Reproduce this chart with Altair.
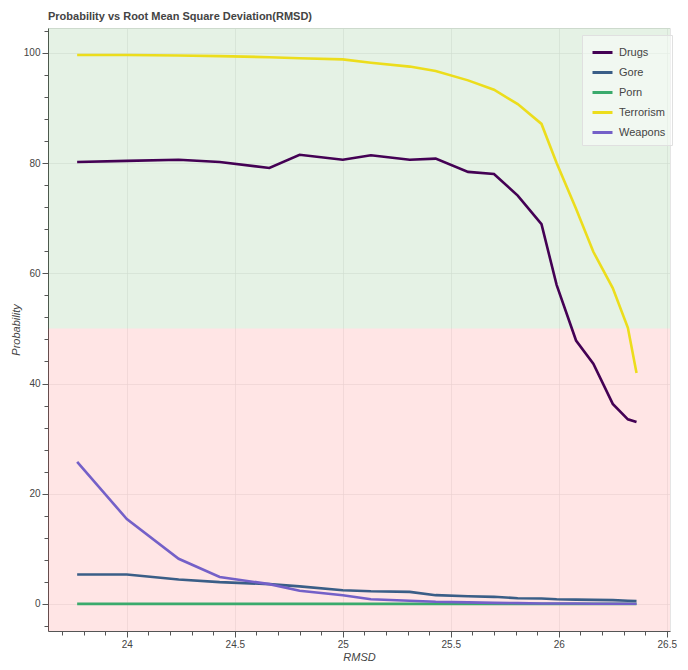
import altair as alt
import pandas as pd

rmsd = [23.77, 24.00, 24.24, 24.43, 24.66, 24.80, 25.00, 25.13, 25.31, 25.43,
        25.58, 25.70, 25.81, 25.92, 25.99, 26.08, 26.16, 26.25, 26.32, 26.36]
drugs = [80.2, 80.4, 80.6, 80.2, 79.1, 81.5, 80.6, 81.4, 80.6, 80.8,
         78.4, 78.0, 74.1, 68.9, 57.9, 47.8, 43.6, 36.3, 33.5, 33.0]
gore = [5.35, 5.35, 4.45, 3.96, 3.6, 3.2, 2.5, 2.3, 2.2, 1.6,
        1.4, 1.3, 1.05, 1.0, 0.85, 0.8, 0.75, 0.7, 0.6, 0.55]
porn = [0.02, 0.02, 0.02, 0.02, 0.02, 0.02, 0.02, 0.02, 0.02, 0.02,
        0.02, 0.02, 0.02, 0.02, 0.02, 0.02, 0.02, 0.02, 0.02, 0.02]
terrorism = [99.6, 99.6, 99.5, 99.4, 99.2, 99.0, 98.8, 98.2, 97.5, 96.7,
             95.0, 93.3, 90.7, 87.1, 80.0, 71.7, 63.9, 57.3, 50.1, 41.9]
weapons = [25.8, 15.4, 8.2, 4.9, 3.6, 2.4, 1.6, 0.85, 0.6, 0.4,
           0.3, 0.2, 0.15, 0.1, 0.1, 0.1, 0.05, 0.05, 0.05, 0.05]

categories = ["Drugs", "Gore", "Porn", "Terrorism", "Weapons"]
colors = ["#440154", "#3a5e87", "#3aaa6c", "#ecdd1c", "#7460c8"]

x_ticks = [23.7, 23.8, 23.9, 24.0, 24.1, 24.2, 24.3, 24.4, 24.5, 24.6,
           24.7, 24.8, 24.9, 25.0, 25.1, 25.2, 25.3, 25.4, 25.5, 25.6,
           25.7, 25.8, 25.9, 26.0, 26.1, 26.2, 26.3, 26.4, 26.5]
y_ticks = [-4, 0, 4, 8, 12, 16, 20, 24, 28, 32, 36, 40, 44, 48, 52, 56,
           60, 64, 68, 72, 76, 80, 84, 88, 92, 96, 100, 104]

x_domain = [23.635, 26.515]
y_domain = [-4.9, 104.5]
threshold = 50

series = {"Drugs": drugs, "Gore": gore, "Porn": porn,
          "Terrorism": terrorism, "Weapons": weapons}
rows = []
for name in categories:
    for xv, yv in zip(rmsd, series[name]):
        rows.append({"RMSD": xv, "Probability": yv, "Category": name})
df = pd.DataFrame(rows)

bands = pd.DataFrame([
    {"lo": threshold, "hi": y_domain[1], "zone": "safe"},
    {"lo": y_domain[0], "hi": threshold, "zone": "unsafe"},
])

W, H = 622, 603
FONT = "Liberation Sans"

x_major = "abs(datum.value*2 - round(datum.value*2)) < 0.001"
y_major = "abs(datum.value % 20) < 0.001"

x_scale = alt.Scale(domain=x_domain, nice=False, zero=False)
y_scale = alt.Scale(domain=y_domain, nice=False, zero=False)

x_axis = alt.Axis(
    values=x_ticks,
    labelExpr=f"{x_major} ? toString(round(datum.value*10)/10) : ''",
    tickSize={"condition": {"test": x_major, "value": 6}, "value": 4},
    gridOpacity={"condition": {"test": x_major, "value": 0.55}, "value": 0},
    labelOverlap=False,
    title="RMSD",
)
y_axis = alt.Axis(
    values=y_ticks,
    labelExpr=f"{y_major} ? toString(datum.value) : ''",
    tickSize={"condition": {"test": y_major, "value": 6}, "value": 4},
    gridOpacity={"condition": {"test": y_major, "value": 0.55}, "value": 0},
    labelOverlap=False,
    title="Probability",
)

band_layer = alt.Chart(bands).mark_rect(opacity=0.1).encode(
    x=alt.value(0),
    x2=alt.value(W),
    y=alt.Y("lo:Q", scale=y_scale, axis=y_axis),
    y2="hi:Q",
    color=alt.Color("zone:N", scale=alt.Scale(domain=["safe", "unsafe"],
                                              range=["#008000", "#ff0000"]),
                    legend=None),
)

line_layer = alt.Chart(df).mark_line(strokeWidth=2.6).encode(
    x=alt.X("RMSD:Q", scale=x_scale, axis=x_axis),
    y=alt.Y("Probability:Q", scale=y_scale, axis=y_axis),
    color=alt.Color(
        "Category:N",
        scale=alt.Scale(domain=categories, range=colors),
        legend=alt.Legend(
            title=None,
            orient="none",
            legendX=534,
            legendY=7,
            symbolType="stroke",
            symbolSize=400,
            symbolStrokeWidth=3,
            symbolOffset=3,
            labelFontSize=11,
            labelFont=FONT,
            labelColor="#444444",
            labelOffset=5,
            rowPadding=2,
            padding=6,
            fillColor="rgba(255,255,255,0.45)",
            strokeColor="#e0e0e0",
        ),
    ),
    detail="Category:N",
)

chart = alt.layer(band_layer, line_layer).resolve_scale(color="independent").properties(
    width=W,
    height=H,
    autosize=alt.AutoSizeParams(type="none"),
    padding={"left": 40, "top": 20, "right": 10, "bottom": 31},
    title=alt.TitleParams(
        "Probability vs Root Mean Square Deviation(RMSD)",
        anchor="start",
        frame="group",
        font=FONT,
        fontSize=11,
        fontWeight="bold",
        color="#444444",
        offset=4,
    ),
).configure_view(
    stroke="#e5e5e5",
).configure_axis(
    labelFont=FONT,
    labelFontSize=10,
    labelColor="#444444",
    labelPadding=2,
    titleFont=FONT,
    titleFontSize=11,
    titleFontStyle="italic",
    titleFontWeight="normal",
    titleColor="#444444",
    titlePadding=2,
    domainColor="#555555",
    tickColor="#555555",
    gridColor="#e5e5e5",
)

chart.save("out.html", embed_options={"renderer": "svg", "actions": False})
